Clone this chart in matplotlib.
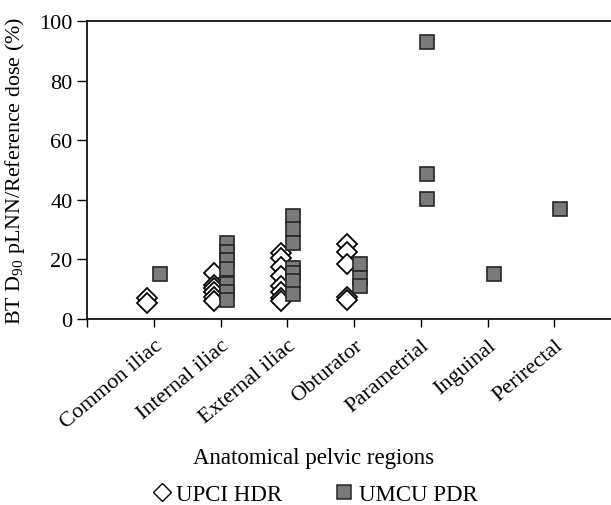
import numpy as np
import matplotlib
matplotlib.use('Agg')
from matplotlib import pyplot as plt
from matplotlib.lines import Line2D

plt.rcParams['font.family'] = ['Liberation Serif', 'DejaVu Serif']
plt.rcParams['mathtext.fontset'] = 'custom'
plt.rcParams['mathtext.rm'] = 'Liberation Serif'

regions = ['Common iliac', 'Internal iliac', 'External iliac', 'Obturator',
           'Parametrial', 'Inguinal', 'Perirectal']

# BT D90 pLNN / reference dose (%), one list per region
upci_hdr = [
    [7.0, 5.5],
    [15.5, 11.5, 10.5, 9.0, 7.5, 6.0],
    [22.3, 20.5, 17.5, 14.5, 11.0, 9.0, 7.0, 6.2],
    [25.2, 22.4, 18.5, 7.3, 6.5],
    [],
    [],
    [],
]
umcu_pdr = [
    [15.0],
    [25.4, 22.6, 19.8, 16.9, 11.7, 9.1, 6.5],
    [34.6, 30.1, 25.6, 17.2, 15.5, 12.8, 8.5],
    [18.3, 13.9, 11.1],
    [93.0, 48.6, 40.2],
    [15.0],
    [37.0],
]

fig = plt.figure(figsize=(6.11, 5.06), dpi=100)
ax = fig.add_axes([0.1424, 0.3676, 0.8576, 0.5889])

for i in range(len(regions)):
    if upci_hdr[i]:
        ax.plot([i - 0.1] * len(upci_hdr[i]), upci_hdr[i], 'D', ms=10,
                mfc='white', mec='black', mew=1.3, ls='none')
for i in range(len(regions)):
    ax.plot([i + 0.09] * len(umcu_pdr[i]), umcu_pdr[i], 's', ms=10,
            mfc='#7a7a7a', mec='#262626', mew=1.2, ls='none')

ax.set_xlim(-1, 6.85)
ax.set_ylim(0, 100)
ax.set_yticks([0, 20, 40, 60, 80, 100])
ax.set_xticks(range(-1, len(regions)))
ax.set_xticklabels([''] + regions, rotation=40, ha='right',
                   rotation_mode='anchor')
ax.tick_params(direction='out', width=1, labelsize=16)
ax.tick_params(axis='y', length=7.5, pad=3)
ax.tick_params(axis='x', length=6, pad=6)
ax.spines['right'].set_visible(False)
for s in ['left', 'bottom', 'top']:
    ax.spines[s].set_linewidth(1.2)

ax.set_ylabel('BT D$_{90}$ pLNN/Reference dose (%)', fontsize=15.8)
ax.yaxis.set_label_coords(-0.137, 0.5)
ax.yaxis.label.set_va('center')
ax.set_xlabel('Anatomical pelvic regions', fontsize=16.5)
ax.xaxis.set_label_coords(0.433, -0.43)

handles = [Line2D([], [], marker='D', ms=9, mfc='white', mec='black', mew=1.0, ls='none'),
           Line2D([], [], marker='s', ms=9.5, mfc='#7a7a7a', mec='#262626', mew=1.1, ls='none')]
fig.legend(handles, ['UPCI HDR', 'UMCU PDR'], loc='center', ncol=2,
           bbox_to_anchor=(0.514, 0.02), frameon=False, fontsize=16.5,
           handletextpad=0.15, columnspacing=2.2, handlelength=1.0)

plt.savefig('out.png', dpi=100)
